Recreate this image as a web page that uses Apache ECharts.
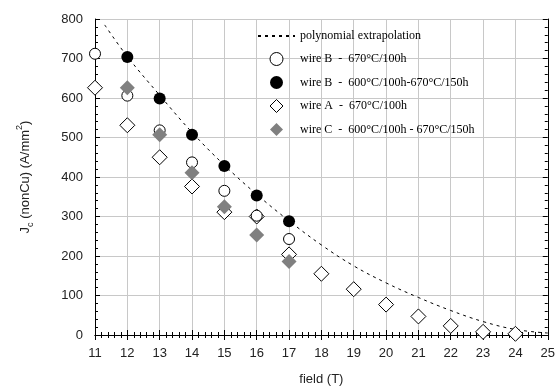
<!DOCTYPE html>
<html>
<head>
<meta charset="utf-8">
<script src="https://cdn.jsdelivr.net/npm/echarts@6/dist/echarts.min.js"></script>
<style>
  html, body {margin: 0; padding: 0; background: #fff;}
  #chart {width: 558px; height: 391px;}
</style>
</head>
<body>
<div id="chart"></div>
<script>
const fieldsB1 = [11, 12, 13, 14, 15, 16, 17];
const wireB670 = [712, 606, 518, 437, 365, 302, 243];

const fieldsB2 = [12, 13, 14, 15, 16, 17];
const wireB600 = [704, 599, 507, 428, 353, 288];

const fieldsA = [11, 12, 13, 14, 15, 16, 17, 18, 19, 20, 21, 22, 23, 24];
const wireA670 = [626, 531, 450, 376, 311, 300, 204, 155, 116, 77, 47, 23, 8, 3];

const fieldsC = [12, 13, 14, 15, 16, 17];
const wireC600 = [626, 507, 411, 325, 253, 186];

const fitFields = [11.3, 12, 13, 14, 15, 16, 17, 18, 19, 20, 21, 22, 23, 24, 25];
const fitValues = [785, 705, 607, 513, 430, 356, 289, 228, 175, 132, 95, 62, 34, 14, 5];

const names = [
  'polynomial extrapolation',
  'wire B  -  670°C/100h',
  'wire B  -  600°C/100h-670°C/150h',
  'wire A  -  670°C/100h',
  'wire C  -  600°C/100h - 670°C/150h'
];

const pairs = (xs, ys) => xs.map((x, i) => [x, ys[i]]);
const diamondIcon = 'path://M6,0L12,6L6,12L0,6Z';

const chart = echarts.init(document.getElementById('chart'));

const tickFont = {fontFamily: 'Liberation Sans, Arial, sans-serif', fontSize: 13, color: '#222'};
const baseAxis = {
  type: 'value',
  axisLine: {show: true, lineStyle: {color: '#000', width: 1}},
  axisTick: {show: true, inside: true, length: 5, lineStyle: {color: '#000'}},
  minorTick: {show: true, splitNumber: 5, length: 3, lineStyle: {color: '#000'}},
};

chart.setOption({
  animation: false,
  grid: {left: 95, right: 10, top: 19, bottom: 55},
  legend: {
    orient: 'vertical',
    left: 252,
    top: 25,
    itemWidth: 37,
    itemHeight: 13,
    itemGap: 10,
    symbolKeepAspect: true,
    textStyle: {fontFamily: 'Liberation Serif, Times New Roman, serif', fontSize: 12, color: '#000'},
    data: [
      {name: names[0], itemStyle: {opacity: 0}},
      {name: names[1], itemStyle: {borderWidth: 1}},
      names[2],
      {name: names[3], icon: diamondIcon, itemStyle: {borderWidth: 1}},
      {name: names[4], icon: diamondIcon}
    ]
  },
  xAxis: [
    Object.assign({}, baseAxis, {
      min: 11, max: 25, interval: 1, position: 'bottom',
      axisLabel: Object.assign({margin: 12}, tickFont),
      splitLine: {show: true, lineStyle: {color: '#c8c8c8'}},
      name: 'field (T)', nameLocation: 'middle', nameGap: 38,
      nameTextStyle: tickFont
    }),
    Object.assign({}, baseAxis, {
      min: 11, max: 25, interval: 1, position: 'top',
      axisLabel: {show: false}, splitLine: {show: false}
    })
  ],
  yAxis: [
    Object.assign({}, baseAxis, {
      min: 0, max: 800, interval: 100, position: 'left',
      axisLabel: Object.assign({margin: 12}, tickFont),
      splitLine: {show: true, lineStyle: {color: '#c8c8c8'}},
      name: '{a|J}{sub|c}{a| (nonCu) (A/mm}{sup|2}{a|)}',
      nameLocation: 'middle', nameGap: 60, nameRotate: 90,
      nameTextStyle: {
        rich: {
          a: {fontFamily: 'Liberation Sans, Arial, sans-serif', fontSize: 13, color: '#222', lineHeight: 20, verticalAlign: 'middle'},
          sub: {fontFamily: 'Liberation Sans, Arial, sans-serif', fontSize: 9, color: '#222', lineHeight: 20, verticalAlign: 'bottom'},
          sup: {fontFamily: 'Liberation Sans, Arial, sans-serif', fontSize: 9, color: '#222', lineHeight: 20, verticalAlign: 'top'}
        }
      }
    }),
    Object.assign({}, baseAxis, {
      min: 0, max: 800, interval: 100, position: 'right',
      axisLabel: {show: false}, splitLine: {show: false}
    })
  ],
  series: [
    {
      name: names[0],
      type: 'line',
      smooth: 0.4,
      symbol: 'none',
      data: pairs(fitFields, fitValues),
      lineStyle: {color: '#000', width: 1, type: [3, 4]},
      itemStyle: {color: '#000'},
      z: 1
    },
    {
      name: names[1],
      type: 'scatter',
      symbol: 'circle',
      symbolSize: 11,
      data: pairs(fieldsB1, wireB670),
      itemStyle: {color: '#fff', borderColor: '#000', borderWidth: 1, opacity: 1},
      z: 3
    },
    {
      name: names[2],
      type: 'scatter',
      symbol: 'circle',
      symbolSize: 12,
      data: pairs(fieldsB2, wireB600),
      itemStyle: {color: '#000', opacity: 1},
      z: 4
    },
    {
      name: names[3],
      type: 'scatter',
      symbol: 'diamond',
      symbolSize: 15,
      data: pairs(fieldsA, wireA670),
      itemStyle: {color: '#fff', borderColor: '#000', borderWidth: 1, opacity: 1},
      z: 2
    },
    {
      name: names[4],
      type: 'scatter',
      symbol: 'diamond',
      symbolSize: 15,
      data: pairs(fieldsC, wireC600),
      itemStyle: {color: '#808080', opacity: 1},
      z: 5
    }
  ]
});
</script>
</body>
</html>
